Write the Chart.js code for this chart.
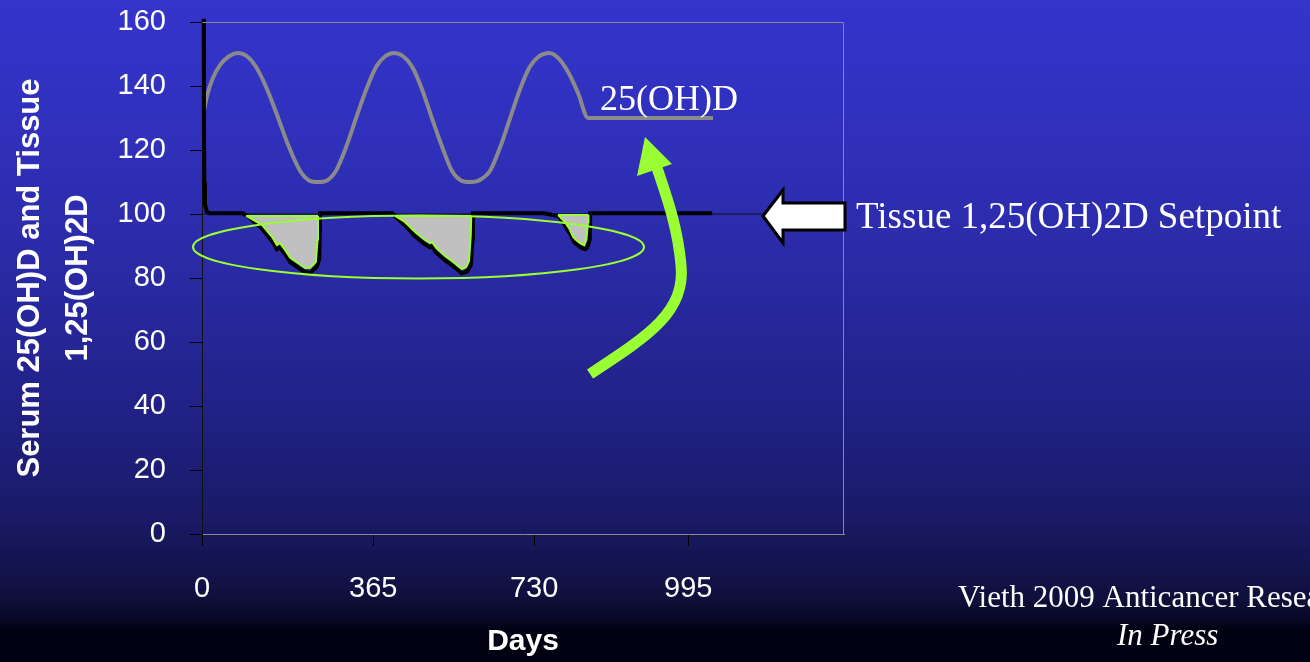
<!DOCTYPE html>
<html>
<head>
<meta charset="utf-8">
<script src="https://cdn.jsdelivr.net/npm/chart.js@4.4.0/dist/chart.umd.min.js"></script>
<style>
  html, body { margin: 0; padding: 0; overflow: hidden; }
  body {
    width: 1310px; height: 662px;
    background: linear-gradient(to bottom, #3434cc 0%, #3030bc 20%, #2a2aa6 40%, #22228a 60%, #1a1a68 78%, #10103e 90%, #080826 93.5%, #020214 95%, #000010 100%);
  }
  canvas { display: block; }
</style>
</head>
<body>
<canvas id="grafico" width="1310" height="662"></canvas>
<script>
// x tick labels and where they sit on the day axis
const xTickLabels = ['0', '365', '730', '995'];
const xTickAt = [0, 400, 776, 1136];
const yTicks = [0, 20, 40, 60, 80, 100, 120, 140, 160];

// Serum 25(OH)D (grey seasonal curve)
const serumDays = [2, 12, 24, 42, 63, 84, 105, 126, 152, 178, 203, 229, 250, 271, 292, 313, 337, 360, 384, 407, 428, 449, 470, 491, 514, 537, 561, 584, 605, 626, 647, 673, 697, 720, 743, 766, 788, 811, 834, 857, 879, 902, 1194];
const serumValues = [130.5, 137, 142, 146.5, 149.3, 150.3, 149.3, 146, 139, 130, 121, 113.5, 110.5, 110, 110.5, 113.5, 121, 130, 139, 146, 149.3, 150.3, 149.3, 146, 139, 130, 121, 113.5, 110.5, 110, 110.5, 113.5, 121, 130, 139, 146, 149.3, 150.3, 148.5, 144, 137.7, 130, 130];

// Tissue 1,25(OH)2D (black line)
const tissueDays = [4, 4.5, 5.5, 7, 11, 18, 95, 105, 140, 164, 175, 182, 194, 206, 224, 241, 252, 268, 274, 276, 445, 451, 474, 498, 521, 533, 537, 547, 568, 584, 598, 607, 619, 628, 632, 633, 800, 834, 850, 862, 869, 876, 885, 895, 900, 906, 907, 1192];
const tissueValues = [161, 130, 110, 103, 100.8, 100.2, 100.2, 99.5, 95.5, 91.5, 89, 89.6, 87.5, 85, 83.3, 81.8, 81.6, 83.5, 86, 100.2, 100.2, 99.3, 96.5, 93, 90.5, 89.6, 90, 88, 85.5, 84, 82.5, 81.5, 82, 84, 92, 100.2, 100.2, 99.3, 96, 93.5, 91.3, 90.5, 89.5, 89, 89.5, 92, 100.2, 100.2];

// shaded deficits below the setpoint
const dip1Days = [103, 140, 164, 175, 182, 194, 206, 224, 241, 252, 266, 270, 271];
const dip1Values = [99.4, 96.6, 92.8, 90.3, 90.9, 88.8, 86.3, 84.7, 83.1, 83.1, 85, 92, 99.4];
const dip2Days = [451, 474, 498, 521, 533, 537, 547, 568, 584, 598, 607, 617, 624, 628, 629];
const dip2Values = [99.4, 97.5, 94.4, 91.9, 90.9, 91.25, 89.4, 86.9, 85.3, 83.75, 82.8, 83.4, 85.3, 93.4, 99.4];
const dip3Days = [832, 848, 860, 867, 874, 883, 893, 898, 902, 903];
const dip3Values = [99.7, 97.5, 95, 92.8, 91.9, 90.9, 90.3, 92, 97.5, 99.7];

// setpoint reference line
const setpointDays = [0, 1311];
const setpointValue = 100;

const zip = (xs, ys) => xs.map((x, i) => ({ x: x, y: ys[i] }));
const dips = [[dip1Days, dip1Values], [dip2Days, dip2Values], [dip3Days, dip3Values]];
const dipPoints = [];
const dipTops = [];
dips.forEach(([d, v]) => {
  dipPoints.push(...zip(d, v), { x: d[d.length - 1] + 1, y: null });
  dipTops.push({ x: d[0], y: v[0] }, { x: d[d.length - 1], y: v[v.length - 1] }, { x: d[d.length - 1] + 1, y: null });
});

const sans = "'Liberation Sans', Arial, sans-serif";
const serif = "'Liberation Serif', 'Times New Roman', serif";

// drawings that are not series: frame, ellipse, arrows, labels
const extras = {
  id: 'extras',
  afterDatasetsDraw(chart) {
    const { ctx, chartArea: a } = chart;
    ctx.save();

    // frame top / right
    ctx.strokeStyle = '#8a8a8a';
    ctx.lineWidth = 1;
    ctx.beginPath();
    ctx.moveTo(a.left, a.top + 0.5);
    ctx.lineTo(a.right - 0.5, a.top + 0.5);
    ctx.lineTo(a.right - 0.5, a.bottom);
    ctx.stroke();

    // green ellipse round the deficits
    ctx.strokeStyle = '#99ff33';
    ctx.lineWidth = 2;
    ctx.beginPath();
    ctx.ellipse(418.5, 247, 225.5, 31.5, 0, 0, Math.PI * 2);
    ctx.stroke();

    // curved green arrow
    ctx.strokeStyle = '#99ff33';
    ctx.lineWidth = 11;
    ctx.beginPath();
    ctx.moveTo(590, 374);
    ctx.bezierCurveTo(648, 336, 686, 312, 681, 265);
    ctx.bezierCurveTo(678, 230, 668, 200, 657, 168);
    ctx.stroke();
    ctx.fillStyle = '#99ff33';
    ctx.beginPath();
    ctx.moveTo(645, 137);
    ctx.lineTo(672, 164);
    ctx.lineTo(637, 176);
    ctx.closePath();
    ctx.fill();

    // white setpoint arrow
    ctx.fillStyle = '#ffffff';
    ctx.strokeStyle = '#000000';
    ctx.lineWidth = 3;
    ctx.lineJoin = 'miter';
    ctx.beginPath();
    ctx.moveTo(763, 216);
    ctx.lineTo(783, 190);
    ctx.lineTo(783, 203);
    ctx.lineTo(845, 203);
    ctx.lineTo(845, 230);
    ctx.lineTo(783, 230);
    ctx.lineTo(783, 243);
    ctx.closePath();
    ctx.fill();
    ctx.stroke();

    // labels
    ctx.fillStyle = '#ffffff';
    ctx.textBaseline = 'alphabetic';
    ctx.textAlign = 'left';
    ctx.font = '36px ' + serif;
    ctx.fillText('25(OH)D', 600, 110);
    ctx.font = '37px ' + serif;
    ctx.fillText('Tissue 1,25(OH)2D Setpoint', 856, 228);
    ctx.font = '31px ' + serif;
    ctx.fillText('Vieth 2009 Anticancer Research', 958, 607);
    ctx.font = 'italic 31px ' + serif;
    ctx.fillText('In Press', 1117, 645);
    ctx.restore();
  }
};

Chart.defaults.color = '#ffffff';

new Chart(document.getElementById('grafico'), {
  type: 'line',
  data: {
    datasets: [
      {
        label: 'dip tops',
        data: dipTops,
        borderColor: '#99ff33',
        borderWidth: 2,
        pointRadius: 0,
        spanGaps: false,
        order: 1
      },
      {
        label: 'deficit',
        data: dipPoints,
        borderColor: '#99ff33',
        backgroundColor: '#c0c0c0',
        borderWidth: 2,
        pointRadius: 0,
        spanGaps: false,
        fill: { value: 99.5 },
        order: 2
      },
      {
        label: 'Tissue 1,25(OH)2D',
        data: zip(tissueDays, tissueValues),
        borderColor: '#000000',
        borderWidth: 4,
        pointRadius: 0,
        tension: 0,
        clip: 4,
        order: 3
      },
      {
        label: '25(OH)D',
        data: zip(serumDays, serumValues),
        borderColor: '#8a8a8a',
        borderWidth: 4,
        pointRadius: 0,
        cubicInterpolationMode: 'monotone',
        order: 4
      },
      {
        label: 'setpoint',
        data: setpointDays.map(d => ({ x: d, y: setpointValue })),
        borderColor: '#111111',
        borderWidth: 1,
        pointRadius: 0,
        order: 5
      }
    ]
  },
  options: {
    responsive: false,
    animation: false,
    layout: { padding: { left: 0, top: 22, right: 466, bottom: 0 } },
    plugins: {
      legend: { display: false },
      tooltip: { enabled: false }
    },
    scales: {
      x: {
        type: 'linear',
        min: 0,
        max: 1500,
        afterFit: s => { s.height = 128; s.paddingLeft = 0; s.paddingRight = 0; },
        afterBuildTicks: s => { s.ticks = xTickAt.map(v => ({ value: v })); },
        ticks: {
          color: '#fff',
          padding: 26,
          font: { family: sans, size: 29 },
          callback: (v, i) => xTickLabels[i]
        },
        grid: { drawOnChartArea: false, color: '#000', tickLength: 12 },
        border: { color: '#8a8a8a' },
        title: {
          display: true,
          text: 'Days',
          color: '#fff',
          font: { family: sans, size: 30, weight: 'bold' },
          padding: { top: 0, bottom: 2 }
        }
      },
      y: {
        min: 0,
        max: 160,
        afterFit: s => { s.width = 202; s.paddingTop = 0; s.paddingBottom = 0; },
        afterBuildTicks: s => { s.ticks = yTicks.map(v => ({ value: v })); },
        ticks: {
          color: '#fff',
          padding: 24,
          font: { family: sans, size: 29 }
        },
        grid: { drawOnChartArea: false, color: '#000', tickLength: 12 },
        border: { color: '#111' },
        title: {
          display: true,
          text: ['Serum 25(OH)D and Tissue', '1,25(OH)2D'],
          color: '#fff',
          font: { family: sans, size: 31, weight: 'bold', lineHeight: 1.55 },
          padding: { top: 6, bottom: 0 }
        }
      }
    }
  },
  plugins: [extras]
});
</script>
</body>
</html>
